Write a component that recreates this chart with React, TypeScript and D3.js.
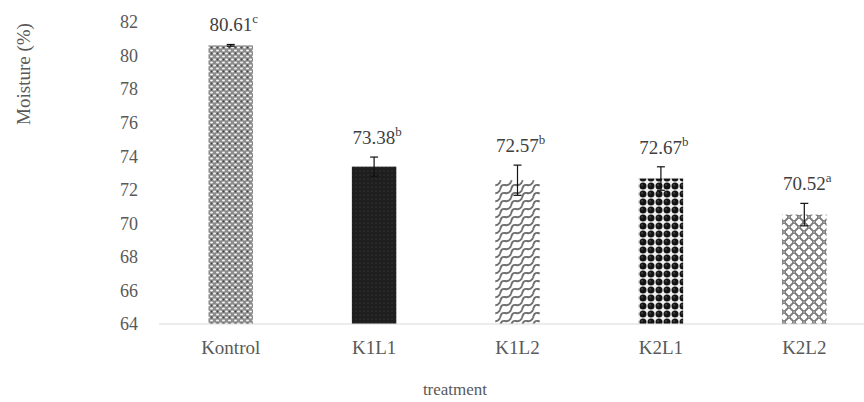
import { useEffect, useRef } from "react";
import * as d3 from "d3";

const W = 864,
  H = 402;
const margin = { top: 22, right: -12, bottom: 78, left: 159 };

const categories = ["Kontrol", "K1L1", "K1L2", "K2L1", "K2L2"];
const values = [80.61, 73.38, 72.57, 72.67, 70.52];
const errors = [0.05, 0.57, 0.9, 0.7, 0.67];
const letters = ["c", "b", "b", "b", "a"];
const patterns = ["pKontrol", "pK1L1", "pK1L2", "pK2L1", "pK2L2"];
const yTicks = [64, 66, 68, 70, 72, 74, 76, 78, 80, 82];

const font = "'Liberation Serif', 'DejaVu Serif', serif";

function App() {
  const svgRef = useRef<SVGSVGElement>(null);

  const buildSVG = () => {
    const root = d3.select(svgRef.current);
    root.selectAll("*").remove();
    root.attr("width", W).attr("height", H);

    const defs = root.append("defs");

    // Kontrol: grey with white speckles
    const p1 = defs
      .append("pattern")
      .attr("id", "pKontrol")
      .attr("patternUnits", "userSpaceOnUse")
      .attr("width", 6)
      .attr("height", 6);
    p1.append("rect").attr("width", 6).attr("height", 6).attr("fill", "#8c8c8c");
    p1.append("ellipse").attr("cx", 1.5).attr("cy", 1.5).attr("rx", 1.5).attr("ry", 1).attr("fill", "#f4f4f4");
    p1.append("ellipse").attr("cx", 4.5).attr("cy", 4.5).attr("rx", 1.5).attr("ry", 1).attr("fill", "#f4f4f4");
    p1.append("circle").attr("cx", 4.5).attr("cy", 1.5).attr("r", 0.9).attr("fill", "#444");

    // K1L1: near black with fine dots
    const p2 = defs
      .append("pattern")
      .attr("id", "pK1L1")
      .attr("patternUnits", "userSpaceOnUse")
      .attr("width", 4)
      .attr("height", 4);
    p2.append("rect").attr("width", 4).attr("height", 4).attr("fill", "#1e1e1e");
    p2.append("circle").attr("cx", 1).attr("cy", 1).attr("r", 0.6).attr("fill", "#4a4a4a");

    // K1L2: diagonal wave lines
    const p3 = defs
      .append("pattern")
      .attr("id", "pK1L2")
      .attr("patternUnits", "userSpaceOnUse")
      .attr("width", 11)
      .attr("height", 8);
    p3.append("rect").attr("width", 11).attr("height", 8).attr("fill", "#fff");
    p3.append("path")
      .attr("d", "M0,8 Q1,2 5,3 Q9,4 11,0 M-11,8 Q-10,2 -6,3 Q-2,4 0,0 M11,8 Q12,2 16,3")
      .attr("fill", "none")
      .attr("stroke", "#6f6f6f")
      .attr("stroke-width", 1.9);

    // K2L1: black spheres on a square grid
    const p4 = defs
      .append("pattern")
      .attr("id", "pK2L1")
      .attr("patternUnits", "userSpaceOnUse")
      .attr("width", 8)
      .attr("height", 8);
    p4.append("rect").attr("width", 8).attr("height", 8).attr("fill", "#f0f0f0");
    p4.append("circle").attr("cx", 4).attr("cy", 4).attr("r", 3.5).attr("fill", "#141414");
    p4.append("circle").attr("cx", 3).attr("cy", 3).attr("r", 0.8).attr("fill", "#666");

    // K2L2: outline circle lattice
    const p5 = defs
      .append("pattern")
      .attr("id", "pK2L2")
      .attr("patternUnits", "userSpaceOnUse")
      .attr("width", 10)
      .attr("height", 10);
    p5.append("rect").attr("width", 10).attr("height", 10).attr("fill", "#fff");
    [
      [0, 0],
      [10, 0],
      [0, 10],
      [10, 10],
      [5, 5],
    ].forEach(([cx, cy]) =>
      p5
        .append("circle")
        .attr("cx", cx)
        .attr("cy", cy)
        .attr("r", 3.9)
        .attr("fill", "none")
        .attr("stroke", "#777")
        .attr("stroke-width", 1.4)
    );

    const innerW = W - margin.left - margin.right;
    const innerH = H - margin.top - margin.bottom;

    const svg = root.append("g").attr("transform", `translate(${margin.left},${margin.top})`);

    const x = d3.scaleBand().domain(categories).range([0, innerW]).paddingInner(0.69).paddingOuter(0.345);
    const y = d3.scaleLinear().domain([64, 82]).range([innerH, 0]);

    // y tick labels (no axis line)
    svg
      .selectAll("text.ytick")
      .data(yTicks)
      .enter()
      .append("text")
      .attr("class", "ytick")
      .attr("x", -21)
      .attr("y", (d) => y(d))
      .attr("dy", "0.35em")
      .attr("text-anchor", "end")
      .attr("font-family", font)
      .attr("font-size", 18)
      .attr("fill", "#595959")
      .text((d) => d);

    // bars
    svg
      .selectAll("rect.bar")
      .data(values)
      .enter()
      .append("rect")
      .attr("class", "bar")
      .attr("x", (d, i) => x(categories[i]) as number)
      .attr("width", x.bandwidth())
      .attr("y", (d) => y(d))
      .attr("height", (d) => y(64) - y(d))
      .attr("fill", (d, i) => `url(#${patterns[i]})`);

    // baseline
    svg
      .append("line")
      .attr("x1", 0)
      .attr("x2", W - margin.left)
      .attr("y1", y(64))
      .attr("y2", y(64))
      .attr("stroke", "#d9d9d9")
      .attr("stroke-width", 1);

    // error bars
    const eb = svg
      .selectAll("g.err")
      .data(values)
      .enter()
      .append("g")
      .attr("class", "err")
      .attr("transform", (d, i) => `translate(${(x(categories[i]) as number) + x.bandwidth() / 2},0)`);
    eb.append("line")
      .attr("y1", (d, i) => y(d + errors[i]))
      .attr("y2", (d, i) => y(d - errors[i]))
      .attr("stroke", "#111")
      .attr("stroke-width", 1.2);
    eb.append("line")
      .attr("x1", -4)
      .attr("x2", 4)
      .attr("y1", (d, i) => y(d + errors[i]))
      .attr("y2", (d, i) => y(d + errors[i]))
      .attr("stroke", "#111")
      .attr("stroke-width", 1.2);
    eb.append("line")
      .attr("x1", -4)
      .attr("x2", 4)
      .attr("y1", (d, i) => y(d - errors[i]))
      .attr("y2", (d, i) => y(d - errors[i]))
      .attr("stroke", "#111")
      .attr("stroke-width", 1.2);

    // value labels
    const lbl = svg
      .selectAll("text.val")
      .data(values)
      .enter()
      .append("text")
      .attr("class", "val")
      .attr("x", (d, i) => (x(categories[i]) as number) + x.bandwidth() / 2 + 3)
      .attr("y", (d, i) => y(d + errors[i]) - 13)
      .attr("text-anchor", "middle")
      .attr("font-family", font)
      .attr("font-size", 19)
      .attr("fill", "#404040");
    lbl.append("tspan").text((d) => d.toFixed(2));
    lbl
      .append("tspan")
      .attr("dy", -8)
      .attr("font-size", 13)
      .text((d, i) => letters[i]);

    // category labels
    svg
      .selectAll("text.cat")
      .data(categories)
      .enter()
      .append("text")
      .attr("class", "cat")
      .attr("x", (d) => (x(d) as number) + x.bandwidth() / 2)
      .attr("y", innerH + 30)
      .attr("text-anchor", "middle")
      .attr("font-family", font)
      .attr("font-size", 19)
      .attr("fill", "#595959")
      .text((d) => d);

    // axis titles
    root
      .append("text")
      .attr("x", 455)
      .attr("y", 395)
      .attr("text-anchor", "middle")
      .attr("font-family", font)
      .attr("font-size", 17)
      .attr("fill", "#595959")
      .text("treatment");

    root
      .append("text")
      .attr("transform", "translate(30,74) rotate(-90)")
      .attr("text-anchor", "middle")
      .attr("font-family", font)
      .attr("font-size", 19)
      .attr("fill", "#595959")
      .text("Moisture (%)");
  };

  useEffect(buildSVG, []);

  return (
    <div style={{ position: "absolute", left: 0, top: 0 }}>
      <svg ref={svgRef}></svg>
    </div>
  );
}

export default App;
